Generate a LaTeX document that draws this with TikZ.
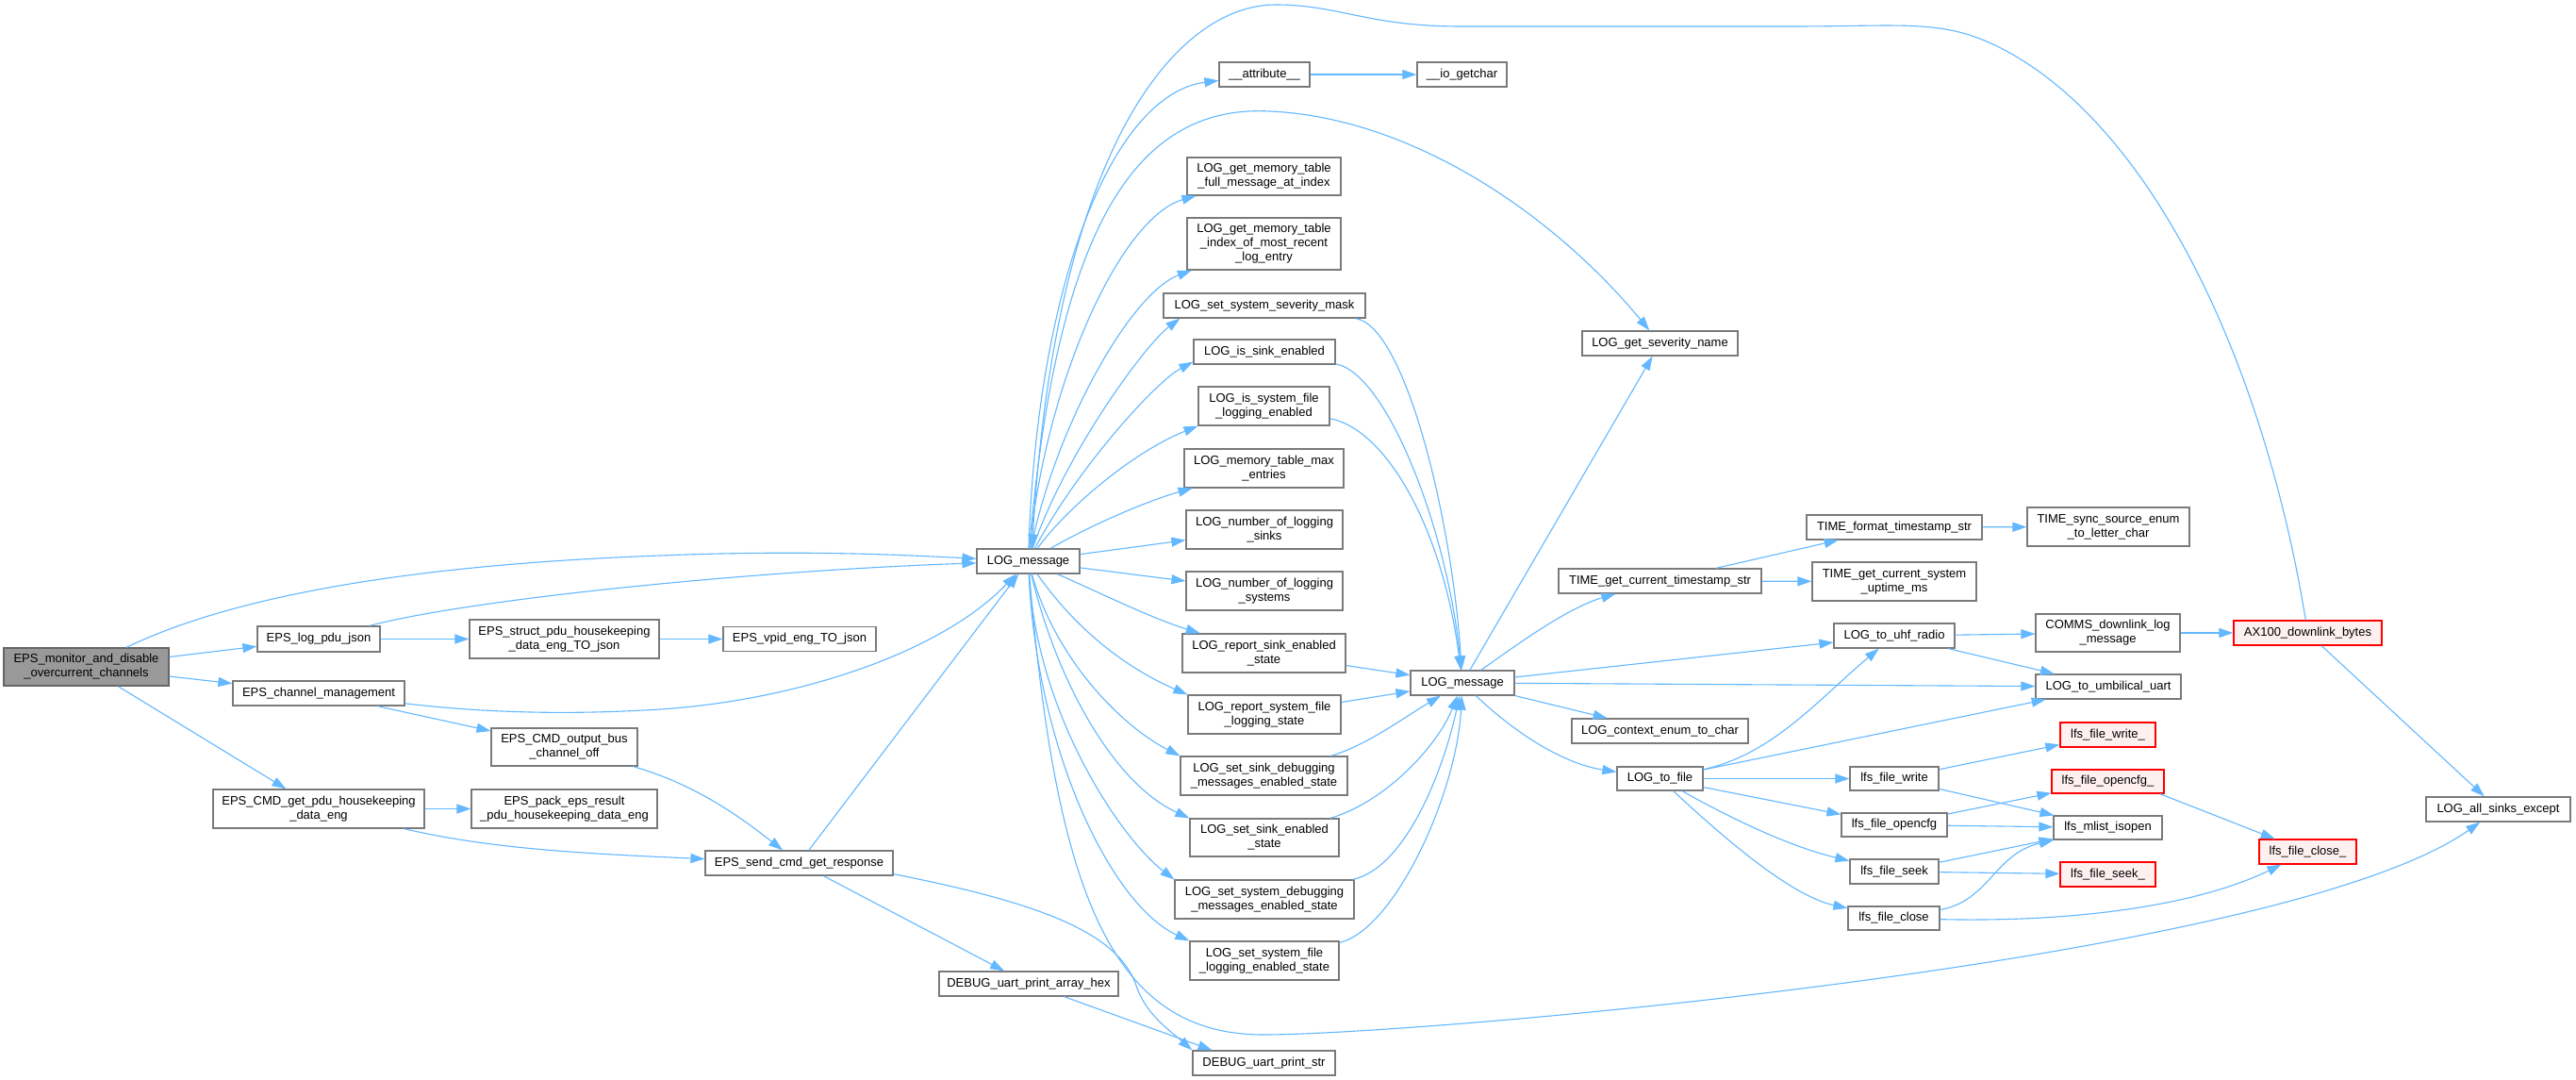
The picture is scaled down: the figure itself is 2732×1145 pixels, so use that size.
\documentclass[tikz,border=0pt]{standalone}
\usepackage{fontspec}
\setmainfont{Liberation Sans}
\usetikzlibrary{arrows.meta}
\definecolor{edgeblue}{HTML}{63B8FF}
\definecolor{bordergray}{HTML}{7A7A7A}
\definecolor{maingray}{HTML}{999999}
\definecolor{maindark}{HTML}{666666}
\definecolor{redfill}{HTML}{FFF0F0}
\definecolor{redline}{HTML}{FF0000}
\begin{document}
\begin{tikzpicture}[x=1pt,y=-1pt,
  nd/.style={draw=bordergray, line width=1.2pt, fill=white, inner sep=0pt, align=center, font=\fontsize{13}{15}\selectfont},
  hl/.style={fill=maingray, draw=maindark},
  rd/.style={draw=redline, fill=redfill},
  conn/.style={draw=edgeblue, line width=1.1pt, -{Triangle[length=15pt,width=10pt]}}
]
\fill[white] (0,0) rectangle (2732,1145);
\useasboundingbox (0,0) rectangle (2732,1145);

\node[nd,hl,minimum width=175pt,minimum height=40pt] (mon) at (91.5,707) {EPS\_monitor\_and\_disable\\\_overcurrent\_channels};
\node[nd,minimum width=130pt,minimum height=27pt] (logjson) at (338,677.5) {EPS\_log\_pdu\_json};
\node[nd,minimum width=201pt,minimum height=41pt] (struct) at (598.5,677.5) {EPS\_struct\_pdu\_housekeeping\\\_data\_eng\_TO\_json};
\node[nd,minimum width=162pt,minimum height=26pt] (vpid) at (848,677.5) {EPS\_vpid\_eng\_TO\_json};
\node[nd,minimum width=182pt,minimum height=26pt] (chan) at (338,735) {EPS\_channel\_management};
\node[nd,minimum width=155pt,minimum height=40pt] (obus) at (598.5,792) {EPS\_CMD\_output\_bus\\\_channel\_off};
\node[nd,minimum width=224pt,minimum height=41pt] (getpdu) at (338,857.5) {EPS\_CMD\_get\_pdu\_housekeeping\\\_data\_eng};
\node[nd,minimum width=197pt,minimum height=41pt] (pack) at (598.5,857.5) {EPS\_pack\_eps\_result\\\_pdu\_housekeeping\_data\_eng};
\node[nd,minimum width=199pt,minimum height=26pt] (send) at (847.5,915) {EPS\_send\_cmd\_get\_response};
\node[nd,minimum width=109pt,minimum height=26pt] (lmA) at (1090.5,595) {LOG\_message};
\node[nd,minimum width=96pt,minimum height=26pt] (attr) at (1341,79) {\_\_attribute\_\_};
\node[nd,minimum width=95pt,minimum height=26pt] (iog) at (1550.5,79) {\_\_io\_getchar};
\node[nd,minimum width=163pt,minimum height=40pt] (gfull) at (1340.5,187) {LOG\_get\_memory\_table\\\_full\_message\_at\_index};
\node[nd,minimum width=163pt,minimum height=55pt] (gidx) at (1340.5,258.5) {LOG\_get\_memory\_table\\\_index\_of\_most\_recent\\\_log\_entry};
\node[nd,minimum width=214pt,minimum height=26pt] (sevmask) at (1341,324) {LOG\_set\_system\_severity\_mask};
\node[nd,minimum width=150pt,minimum height=26pt] (sinken) at (1341,373) {LOG\_is\_sink\_enabled};
\node[nd,minimum width=139pt,minimum height=41pt] (sysfile) at (1340.5,430.5) {LOG\_is\_system\_file\\\_logging\_enabled};
\node[nd,minimum width=169pt,minimum height=41pt] (memmax) at (1340.5,496.5) {LOG\_memory\_table\_max\\\_entries};
\node[nd,minimum width=166pt,minimum height=41pt] (nsinks) at (1341,561.5) {LOG\_number\_of\_logging\\\_sinks};
\node[nd,minimum width=166pt,minimum height=41pt] (nsys) at (1341,626.5) {LOG\_number\_of\_logging\\\_systems};
\node[nd,minimum width=173pt,minimum height=41pt] (repsink) at (1340.5,692.5) {LOG\_report\_sink\_enabled\\\_state};
\node[nd,minimum width=162pt,minimum height=41pt] (repsys) at (1341,757.5) {LOG\_report\_system\_file\\\_logging\_state};
\node[nd,minimum width=177pt,minimum height=41pt] (ssdbg) at (1340.5,822.5) {LOG\_set\_sink\_debugging\\\_messages\_enabled\_state};
\node[nd,minimum width=158pt,minimum height=40pt] (ssen) at (1341,888) {LOG\_set\_sink\_enabled\\\_state};
\node[nd,minimum width=190pt,minimum height=41pt] (sydbg) at (1341,953.5) {LOG\_set\_system\_debugging\\\_messages\_enabled\_state};
\node[nd,minimum width=158pt,minimum height=41pt] (syfile) at (1341,1018.5) {LOG\_set\_system\_file\\\_logging\_enabled\_state};
\node[nd,minimum width=190pt,minimum height=26pt] (dhex) at (1091,1043) {DEBUG\_uart\_print\_array\_hex};
\node[nd,minimum width=151pt,minimum height=26pt] (dstr) at (1340.5,1127) {DEBUG\_uart\_print\_str};
\node[nd,minimum width=165pt,minimum height=26pt] (sevname) at (1760.5,364) {LOG\_get\_severity\_name};
\node[nd,minimum width=110pt,minimum height=26pt] (lmB) at (1551,724) {LOG\_message};
\node[nd,minimum width=215pt,minimum height=26pt] (tsstr) at (1760.5,616) {TIME\_get\_current\_timestamp\_str};
\node[nd,minimum width=186pt,minimum height=26pt] (tfmt) at (2009,559) {TIME\_format\_timestamp\_str};
\node[nd,minimum width=172pt,minimum height=41pt] (tsync) at (2236,558.5) {TIME\_sync\_source\_enum\\\_to\_letter\_char};
\node[nd,minimum width=174pt,minimum height=41pt] (tupt) at (2009,616.5) {TIME\_get\_current\_system\\\_uptime\_ms};
\node[nd,minimum width=187pt,minimum height=26pt] (ctx) at (1760.5,775) {LOG\_context\_enum\_to\_char};
\node[nd,minimum width=91pt,minimum height=25pt] (tofile) at (1760.5,825.5) {LOG\_to\_file};
\node[nd,minimum width=128pt,minimum height=26pt] (uhf) at (2009,674) {LOG\_to\_uhf\_radio};
\node[nd,minimum width=154pt,minimum height=26pt] (umb) at (2236,728) {LOG\_to\_umbilical\_uart};
\node[nd,minimum width=153pt,minimum height=40pt] (comms) at (2235.5,671) {COMMS\_downlink\_log\\\_message};
\node[nd,rd,minimum width=157pt,minimum height=26pt] (ax) at (2447.5,671) {AX100\_downlink\_bytes};
\node[nd,minimum width=153pt,minimum height=26pt] (allsinks) at (2649.5,858) {LOG\_all\_sinks\_except};
\node[nd,minimum width=94pt,minimum height=25pt] (fwrite) at (2009,825.5) {lfs\_file\_write};
\node[nd,minimum width=112pt,minimum height=25pt] (fopen) at (2009,874.5) {lfs\_file\_opencfg};
\node[nd,minimum width=94pt,minimum height=26pt] (fseek) at (2009,924) {lfs\_file\_seek};
\node[nd,minimum width=97pt,minimum height=25pt] (fclose) at (2008.5,973.5) {lfs\_file\_close};
\node[nd,rd,minimum width=101pt,minimum height=26pt] (fwriteU) at (2235.5,779) {lfs\_file\_write\_};
\node[nd,rd,minimum width=119pt,minimum height=25pt] (fopenU) at (2235.5,828.5) {lfs\_file\_opencfg\_};
\node[nd,minimum width=115pt,minimum height=25pt] (mlist) at (2235.5,877.5) {lfs\_mlist\_isopen};
\node[nd,rd,minimum width=101pt,minimum height=26pt] (fseekU) at (2235.5,927) {lfs\_file\_seek\_};
\node[nd,rd,minimum width=103pt,minimum height=26pt] (fcloseU) at (2447.5,903) {lfs\_file\_close\_};

% left part
\draw[conn] (mon) .. controls (230,640) and (400,600) .. (700,589) .. controls (850,583) and (950,588) .. (lmA);
\draw[conn] (mon) -- (logjson);
\draw[conn] (mon) -- (chan);
\draw[conn] (mon) -- (getpdu);
\draw[conn] (logjson) .. controls (500,635) and (800,605) .. (lmA);
\draw[conn] (logjson) -- (struct);
\draw[conn] (struct) -- (vpid);
\draw[conn] (chan) .. controls (550,760) and (650,755) .. (700,752) .. controls (850,742) and (1000,690) .. (lmA);
\draw[conn] (chan) -- (obus);
\draw[conn] (obus) .. controls (740,832) and (790,870) .. (send);
\draw[conn] (getpdu) -- (pack);
\draw[conn] (getpdu) .. controls (520,900) and (620,905) .. (send);
\draw[conn] (send) -- (lmA);
\draw[conn] (send) -- (dhex);
\draw[conn] ([yshift=2pt]send.south east) .. controls (1090,955) and (1185,985) .. (1205,1045) .. controls (1215,1075) and (1240,1092) .. (dstr.north west);
\draw[conn] (dhex) -- ([xshift=-55pt]dstr.north);

% LOG_message fan
\draw[conn] (lmA) .. controls (1100,300) and (1180,100) .. (attr);
\draw[conn] (attr) -- (iog);
\draw[conn] (lmA) .. controls (1120,250) and (1200,110) .. (1347,118) .. controls (1500,125) and (1650,230) .. (sevname);
\draw[conn] (lmA) .. controls (1110,400) and (1190,230) .. (gfull);
\draw[conn] (lmA) .. controls (1120,450) and (1200,310) .. (gidx);
\draw[conn] (lmA) .. controls (1130,480) and (1215,365) .. ([xshift=18pt]sevmask.south west);
\draw[conn] (lmA) .. controls (1140,500) and (1225,405) .. ([yshift=3pt]sinken.south west);
\draw[conn] (lmA) .. controls (1130,540) and (1200,480) .. (sysfile.south west);
\draw[conn] (lmA) .. controls (1160,555) and (1220,530) .. (memmax);
\draw[conn] (lmA) -- (nsinks);
\draw[conn] (lmA) -- (nsys);
\draw[conn] (lmA) .. controls (1170,630) and (1220,655) .. (repsink);
\draw[conn] (lmA) .. controls (1150,680) and (1210,715) .. (repsys.north west);
\draw[conn] (lmA) .. controls (1120,700) and (1190,770) .. (ssdbg.north west);
\draw[conn] (lmA) .. controls (1120,720) and (1180,830) .. (ssen.north west);
\draw[conn] (lmA) .. controls (1100,760) and (1190,890) .. (sydbg.north west);
\draw[conn] (lmA) .. controls (1100,800) and (1180,960) .. (syfile.north west);
\draw[conn] (lmA) .. controls (1120,950) and (1180,1097) .. (1340,1097) .. controls (1500,1097) and (2420,1020) .. (allsinks);
\draw[conn] (ax) .. controls (2400,380) and (2280,130) .. (2120,50) .. controls (2060,20) and (2020,28) .. (1900,28) -- (1550,28) .. controls (1450,28) and (1420,5) .. (1353,5) .. controls (1250,5) and (1120,150) .. ([xshift=4pt]lmA.north);

% into second LOG_message
\draw[conn] (sevmask) .. controls (1490,345) and (1540,550) .. (lmB);
\draw[conn] (sinken) .. controls (1470,395) and (1535,560) .. (lmB);
\draw[conn] (sysfile) .. controls (1470,455) and (1530,560) .. (lmB);
\draw[conn] (repsink) -- (lmB);
\draw[conn] (repsys) -- (lmB);
\draw[conn] (ssdbg) .. controls (1450,790) and (1490,760) .. (lmB);
\draw[conn] (ssen) .. controls (1470,850) and (1525,790) .. (lmB);
\draw[conn] (sydbg) .. controls (1490,920) and (1530,820) .. (lmB);
\draw[conn] (syfile) .. controls (1480,985) and (1545,840) .. (lmB);

% from second LOG_message
\draw[conn] (lmB) -- (sevname);
\draw[conn] (lmB) .. controls (1600,690) and (1660,645) .. (tsstr);
\draw[conn] (lmB) -- (uhf);
\draw[conn] (lmB) -- (umb);
\draw[conn] (lmB) -- (ctx);
\draw[conn] (lmB) .. controls (1610,780) and (1660,810) .. (tofile);
\draw[conn] (tsstr) -- (tfmt);
\draw[conn] (tsstr) -- (tupt);
\draw[conn] (tfmt) -- (tsync);
\draw[conn] (uhf) -- (comms);
\draw[conn] (uhf) -- (umb);
\draw[conn] (comms) -- (ax);
\draw[conn] (ax) -- (allsinks);
\draw[conn] (tofile) .. controls (1880,800) and (1930,740) .. (uhf);
\draw[conn] (tofile) -- (umb);
\draw[conn] (tofile) -- (fwrite);
\draw[conn] (tofile) -- (fopen);
\draw[conn] (tofile) .. controls (1840,870) and (1900,898) .. (fseek);
\draw[conn] (tofile) .. controls (1830,890) and (1900,950) .. (fclose);
\draw[conn] (fwrite) -- (fwriteU);
\draw[conn] (fwrite) -- (mlist);
\draw[conn] (fopen) -- (fopenU);
\draw[conn] (fopen) -- (mlist);
\draw[conn] (fseek) -- (mlist);
\draw[conn] (fseek) -- (fseekU);
\draw[conn] (fclose) .. controls (2110,955) and (2115,905) .. (mlist);
\draw[conn] (fclose) .. controls (2200,978) and (2330,960) .. (fcloseU);
\draw[conn] ([xshift=-5pt]fopenU.south east) -- (fcloseU);
\end{tikzpicture}
\end{document}
